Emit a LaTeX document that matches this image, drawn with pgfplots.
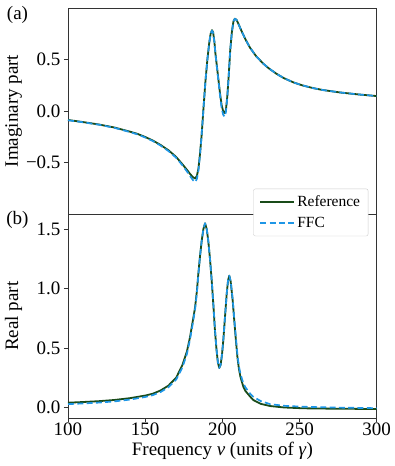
\documentclass[border=0pt]{standalone}
\usepackage{fontspec}
\setmainfont{Liberation Serif}
\usepackage{pgfplots}
\pgfplotsset{compat=1.18}
\definecolor{refgreen}{RGB}{25,75,25}
\definecolor{ffcblue}{RGB}{30,150,230}

\begin{document}
\begin{tikzpicture}[font=\fontsize{19}{22}\selectfont]
\path[use as bounding box] (0pt,0pt) rectangle (395pt,466pt);
\pgfplotsset{
  every axis/.append style={
    scale only axis, width=308.7pt, xmin=100, xmax=300,
    axis line style={black!80, line width=0.8pt},
    tick style={black!80, line width=0.8pt},
    tick align=outside, major tick length=4pt,
    /pgf/number format/assume math mode=true,
    xtick pos=bottom, ytick pos=left,
  },
  refline/.style={refgreen, line width=1.8pt, line join=round},
  ffcline/.style={ffcblue, line width=1.7pt, dash pattern=on 6pt off 3.3pt, line join=round},
}

% (b) real part
\begin{axis}[
  at={(68pt,47.7pt)}, anchor=south west, height=204.3pt,
  ymin=-0.089, ymax=1.628,
  xtick={100,150,200,250,300}, xticklabels={100,150,200,250,300},
  xticklabel style={yshift=3pt},
  ytick={0,0.5,1,1.5}, yticklabels={0.0,0.5,1.0,1.5},
  xlabel={Frequency \textit{ν} (units of \textit{γ})},
  ylabel={Real part},
  xlabel style={at={(rel axis cs:0.5,-0.16)}, anchor=center},
  ylabel style={at={(rel axis cs:-0.1765,0.5)}, anchor=center},
]
\addplot[refline] coordinates {
(100,0.042) (110,0.048) (120,0.055) (130,0.065) (140,0.080) (150,0.102) (155,0.118)
(160,0.145) (165,0.185) (170,0.250) (174,0.355) (177,0.470) (179,0.590) (181,0.740)
(182.3,0.840) (183.5,0.980) (184.4,1.120) (185.5,1.270) (186.6,1.400) (187.7,1.500)
(188.8,1.550) (189.9,1.500) (190.9,1.400) (192,1.250) (193.1,1.070) (194.2,0.860)
(195.2,0.650) (196.2,0.490) (197.1,0.380) (198.0,0.334) (198.9,0.360) (199.8,0.450)
(200.6,0.563) (201.7,0.760) (202.8,0.955) (203.7,1.070) (204.5,1.110) (205.4,1.060)
(206.7,0.900) (207.8,0.720) (208.8,0.563) (209.8,0.420) (210.7,0.330) (211.7,0.260)
(213.6,0.176) (215,0.140) (217.9,0.095) (220,0.065) (225,0.032) (231,0.014)
(240,0.002) (252.5,-0.005) (270,-0.008) (300,-0.011)
};
\addplot[ffcline] coordinates {
(100,0.030) (110,0.036) (120,0.043) (130,0.053) (140,0.068) (150,0.090) (155,0.106)
(160,0.132) (165,0.172) (170,0.235) (174,0.335) (177,0.450) (179,0.570) (181,0.720)
(182.3,0.825) (183.5,0.965) (184.4,1.110) (185.5,1.265) (186.6,1.400) (187.7,1.500)
(188.8,1.550) (189.9,1.500) (190.9,1.400) (192,1.250) (193.1,1.070) (194.2,0.865)
(195.2,0.660) (196.2,0.495) (197.1,0.385) (198.0,0.335) (198.9,0.360) (199.8,0.450)
(200.6,0.563) (201.7,0.760) (202.8,0.955) (203.7,1.070) (204.5,1.110) (205.4,1.065)
(206.7,0.910) (207.8,0.735) (208.8,0.585) (209.8,0.440) (210.7,0.350) (211.7,0.285)
(213.6,0.205) (215,0.170) (217.9,0.120) (220,0.092) (225,0.055) (231,0.030)
(240,0.016) (252.5,0.008) (270,0.002) (300,-0.004)
};
\end{axis}

% (a) imaginary part
\begin{axis}[
  at={(68pt,252pt)}, anchor=south west, height=206pt,
  ymin=-1, ymax=1,
  xtick=\empty,
  ytick={-0.5,0,0.5}, yticklabels={−0.5,0.0,0.5},
  ylabel={Imaginary part},
  ylabel style={at={(rel axis cs:-0.1765,0.5)}, anchor=center},
  legend cell align=left,
  legend image code/.code={\draw[#1] (0pt,0pt) -- (34pt,0pt);},
  legend style={at={(rel axis cs:0.9728,-0.108)}, anchor=south east,
    font=\fontsize{15.5}{18}\selectfont, draw=black!20, fill=white,
    rounded corners=2pt, inner xsep=6pt, inner ysep=5pt, row sep=5pt,
    /tikz/every even column/.append style={column sep=10pt}},
]
\addplot[refline] coordinates {
(100,-0.087) (110,-0.108) (120,-0.131) (130,-0.160) (140,-0.200) (145,-0.222)
(150,-0.252) (155,-0.287) (160,-0.330) (165,-0.380) (170,-0.445) (174,-0.515)
(177,-0.570) (179,-0.610) (181,-0.643) (182.3,-0.655) (183.5,-0.630) (184.5,-0.560)
(185.5,-0.420) (186.5,-0.250) (187.7,0.010) (189,0.280) (190.3,0.500) (191.5,0.660)
(192.4,0.750) (193.3,0.785) (194,0.765) (194.8,0.680) (195.5,0.560) (196.5,0.430)
(197.5,0.300) (198.5,0.170) (199.5,0.060) (200.5,0.000) (201.5,-0.022) (202.3,0.010)
(203.2,0.140) (204.2,0.360) (205.1,0.590) (206.2,0.770) (207.2,0.870) (208.1,0.896)
(209.2,0.885) (210.3,0.850) (211.4,0.812) (213,0.758) (215,0.695) (217.9,0.615)
(222,0.530) (226.5,0.460) (230,0.415) (235.2,0.360) (240,0.318) (246,0.278)
(252,0.248) (258.9,0.222) (265,0.204) (276.2,0.180) (288,0.161) (300,0.145)
};
\addlegendentry{Reference}
\addplot[ffcline] coordinates {
(100,-0.090) (110,-0.110) (120,-0.133) (130,-0.163) (140,-0.204) (145,-0.227)
(150,-0.257) (155,-0.292) (160,-0.336) (165,-0.388) (170,-0.453) (174,-0.525)
(177,-0.585) (179,-0.630) (181,-0.672) (182.3,-0.690) (183.5,-0.660) (184.5,-0.580)
(185.5,-0.430) (186.5,-0.250) (187.7,0.010) (189,0.280) (190.3,0.500) (191.5,0.660)
(192.4,0.750) (193.3,0.780) (194,0.760) (194.8,0.675) (195.5,0.560) (196.5,0.420)
(197.5,0.290) (198.5,0.150) (199.5,0.030) (200.5,-0.035) (201.5,-0.055) (202.3,-0.010)
(203.2,0.130) (204.2,0.360) (205.1,0.590) (206.2,0.770) (207.2,0.870) (208.1,0.895)
(209.2,0.885) (210.3,0.850) (211.4,0.812) (213,0.758) (215,0.695) (217.9,0.615)
(222,0.530) (226.5,0.460) (230,0.415) (235.2,0.360) (240,0.318) (246,0.278)
(252,0.248) (258.9,0.222) (265,0.204) (276.2,0.180) (288,0.161) (300,0.145)
};
\addlegendentry{FFC}
\end{axis}

\node at (17.5pt,451pt) {(a)};
\node at (17.5pt,246pt) {(b)};
\end{tikzpicture}
\end{document}
